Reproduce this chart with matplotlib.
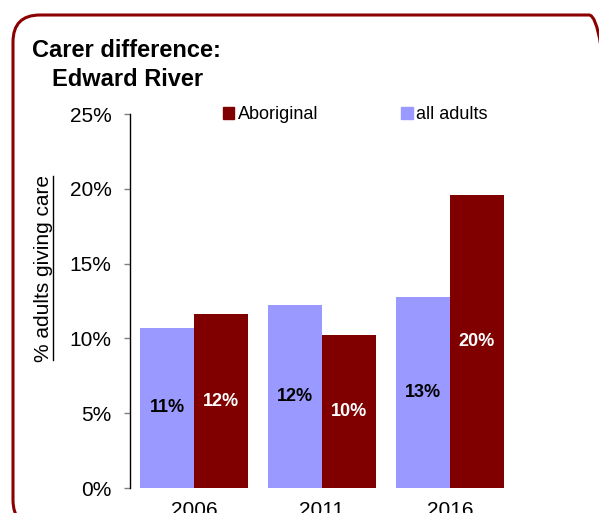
import matplotlib
matplotlib.use("Agg")
import matplotlib.pyplot as plt
import numpy as np
from matplotlib.patches import FancyBboxPatch, Patch
from matplotlib.lines import Line2D

years = ["2006", "2011", "2016"]
all_adults = [10.7, 12.2, 12.8]
aboriginal = [11.6, 10.2, 19.6]
all_labels = ["11%", "12%", "13%"]
abo_labels = ["12%", "10%", "20%"]
yticks = [0, 5, 10, 15, 20, 25]

C_ALL = "#9999FF"
C_ABO = "#800000"
FONT = ["Liberation Sans", "DejaVu Sans"]

plt.rcParams["font.family"] = FONT

W, H = 599, 513
fig = plt.figure(figsize=(W / 100, H / 100), dpi=100)

# rounded border
border = FancyBboxPatch((0.13, -0.14), 6.03, 5.12,
                        boxstyle="round,pad=0,rounding_size=0.27",
                        transform=fig.dpi_scale_trans, fill=False,
                        ec="#8B0000", lw=2.2, zorder=0)
fig.add_artist(border)

ax_left, ax_right = 130, 514
ax_top, ax_bot = 114, 488
ax = fig.add_axes([ax_left / W, (H - ax_bot) / H, (ax_right - ax_left) / W,
                   (ax_bot - ax_top) / H])

x = np.arange(len(years))
bw = 0.418
ax.bar(x - bw / 2, all_adults, bw, color=C_ALL, label="all adults")
ax.bar(x + bw / 2, aboriginal, bw, color=C_ABO, label="Aboriginal")

for xi, v, lab in zip(x, all_adults, all_labels):
    ax.text(xi - bw / 2, v / 2, lab, ha="center", va="center",
            fontsize=13, fontweight="bold", color="black")
for xi, v, lab in zip(x, aboriginal, abo_labels):
    ax.text(xi + bw / 2, v / 2, lab, ha="center", va="center",
            fontsize=13, fontweight="bold", color="white")

ax.set_xlim(-0.5, 2.5)
ax.set_ylim(0, 25)
ax.set_yticks(yticks)
ax.set_yticklabels([f"{t}%" for t in yticks])
ax.set_xticks(x)
ax.set_xticklabels(years)
ax.tick_params(axis="y", length=4.3, width=1, color="#808080", pad=9,
               labelsize=15)
ax.tick_params(axis="x", length=0, pad=9, labelsize=15)
for s in ["top", "right", "bottom"]:
    ax.spines[s].set_visible(False)
ax.spines["left"].set_linewidth(1.0)
ax.spines["left"].set_color("black")

# legend
handles = [Patch(color=C_ABO), Patch(color=C_ALL)]
leg = fig.legend(handles, ["Aboriginal", "all adults"], ncol=2,
                 loc="center left", bbox_to_anchor=(223 / W, 1 - 115 / H),
                 frameon=False, handlelength=0.62, handleheight=0.62,
                 handletextpad=0.2, columnspacing=4.6, borderpad=0,
                 borderaxespad=0, prop={"size": 13})

# title
fig.text(32 / W, 1 - 57 / H, "Carer difference:", fontsize=17,
         fontweight="bold", ha="left", va="baseline")
fig.text(52 / W, 1 - 86 / H, "Edward River", fontsize=17,
         fontweight="bold", ha="left", va="baseline")

# y label (underlined)
yl = fig.text(44 / W, 1 - 268 / H, "% adults giving care", fontsize=15,
              rotation=90, ha="center", va="center")
fig.canvas.draw()
bb = yl.get_window_extent()
inv = fig.transFigure.inverted()
(x0, y0) = inv.transform((bb.x1 - 0.5, bb.y0 + 2))
(x1, y1) = inv.transform((bb.x1 - 0.5, bb.y1 - 1))
fig.add_artist(Line2D([x0, x1], [y0, y1], transform=fig.transFigure,
                      color="black", lw=1.0))

fig.savefig("out.png", dpi=100)
